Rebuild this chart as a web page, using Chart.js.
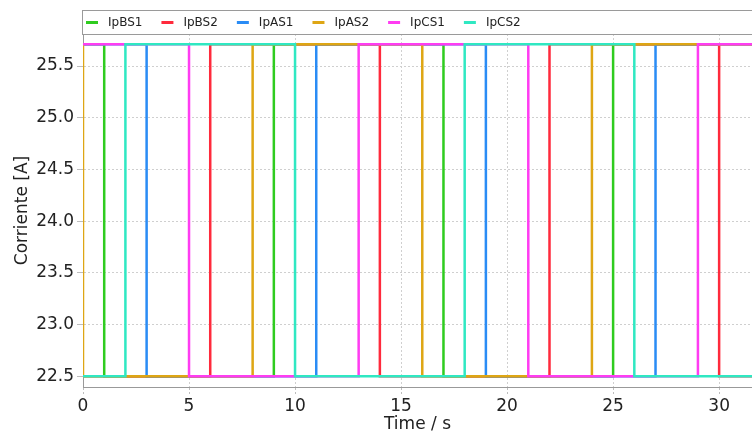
<!DOCTYPE html>
<html>
<head>
<meta charset="utf-8">
<script src="https://cdn.jsdelivr.net/npm/chart.js@4.4.0/dist/chart.umd.min.js"></script>
<style>
  html, body { margin: 0; padding: 0; background: #fff; }
  canvas { display: block; }
</style>
</head>
<body>
<canvas id="current-chart" width="752" height="437"></canvas>
<script>
const seriesNames = ['IpBS1', 'IpBS2', 'IpAS1', 'IpAS2', 'IpCS1', 'IpCS2'];
const seriesColors = ['#2fcc1f', '#ff2a3c', '#2a8cf5', '#dea614', '#ff3cf2', '#2fe8c2'];

// switching instants (s) and the current level from that instant on (A)
const timeBS1 = [0, 1, 9, 17, 25, 32];
const currBS1 = [25.71, 22.5, 25.71, 22.5, 25.71, 25.71];
const timeBS2 = [0, 6, 14, 22, 30, 32];
const currBS2 = [22.5, 25.71, 22.5, 25.71, 22.5, 22.5];
const timeAS1 = [0, 3, 11, 19, 27, 32];
const currAS1 = [25.71, 22.5, 25.71, 22.5, 25.71, 25.71];
const timeAS2 = [0, 0, 8, 16, 24, 32];
const currAS2 = [25.71, 22.5, 25.71, 22.5, 25.71, 25.71];
const timeCS1 = [0, 5, 13, 21, 29, 32];
const currCS1 = [25.71, 22.5, 25.71, 22.5, 25.71, 25.71];
const timeCS2 = [0, 2, 10, 18, 26, 32];
const currCS2 = [22.5, 25.71, 22.5, 25.71, 22.5, 22.5];

const xTicksStep = 5;
const yTicksStep = 0.5;

const times = [timeBS1, timeBS2, timeAS1, timeAS2, timeCS1, timeCS2];
const currents = [currBS1, currBS2, currAS1, currAS2, currCS1, currCS2];

const FONT = '"DejaVu Sans", Verdana, sans-serif';

// legend drawn as a framed strip above the plot
const legendBox = {
  id: 'legendBox',
  afterDraw(chart) {
    const ctx = chart.ctx;
    const top = 10, bottom = 34, left = 82;
    ctx.save();
    ctx.strokeStyle = '#9a9a9a';
    ctx.lineWidth = 1;
    ctx.strokeRect(left + 0.5, top + 0.5, chart.width, bottom - top);
    ctx.font = '12px ' + FONT;
    ctx.textBaseline = 'middle';
    const y = (top + bottom) / 2 + 0.5;
    let x = left + 4;
    chart.data.datasets.forEach(ds => {
      ctx.strokeStyle = ds.borderColor;
      ctx.lineWidth = 3;
      ctx.beginPath();
      ctx.moveTo(x, y);
      ctx.lineTo(x + 12, y);
      ctx.stroke();
      ctx.fillStyle = '#222';
      ctx.fillText(ds.label, x + 22, y);
      x += 22 + ctx.measureText(ds.label).width + 19;
    });
    ctx.restore();
  }
};

const datasets = seriesNames.map((name, i) => ({
  label: name,
  data: times[i].map((t, j) => ({ x: t, y: currents[i][j] })),
  borderColor: seriesColors[i],
  backgroundColor: seriesColors[i],
  borderWidth: 2.5,
  pointRadius: 0,
  stepped: true,
  fill: false,
  order: seriesNames.length - i // last series painted on top
}));

const ctx = document.getElementById('current-chart');
new Chart(ctx, {
  type: 'line',
  data: { datasets },
  options: {
    responsive: false,
    animation: false,
    layout: { padding: { top: 34, left: 0, right: 0, bottom: 0 } },
    plugins: {
      legend: { display: false },
      tooltip: { enabled: false }
    },
    scales: {
      x: {
        type: 'linear',
        min: 0,
        max: 31.55,
        afterFit: s => { s.height = 50; },
        ticks: {
          stepSize: xTicksStep,
          includeBounds: false,
          color: '#222',
          padding: 2,
          maxRotation: 0,
          font: { family: FONT, size: 17 }
        },
        grid: {
          color: '#cfcfcf',
          tickColor: '#bdbdbd',
          tickLength: 7,
          tickBorderDash: [2, 2]
        },
        border: { display: true, color: '#999', width: 1, dash: [2, 2] },
        title: {
          display: true,
          text: 'Time / s',
          color: '#222',
          font: { family: FONT, size: 17 },
          padding: { top: 0, bottom: 2 }
        }
      },
      y: {
        min: 22.397,
        max: 25.81,
        afterFit: s => { s.width = 83; },
        ticks: {
          stepSize: yTicksStep,
          includeBounds: false,
          color: '#222',
          padding: 3,
          font: { family: FONT, size: 17 },
          callback: v => v.toFixed(1)
        },
        grid: {
          color: '#cfcfcf',
          tickColor: '#bdbdbd',
          tickLength: 6
        },
        border: { display: true, color: '#999', width: 1, dash: [2, 2] },
        title: {
          display: true,
          text: 'Corriente [A]',
          color: '#222',
          font: { family: FONT, size: 17 },
          padding: { top: 12, bottom: 0 }
        }
      }
    }
  },
  plugins: [legendBox]
});
</script>
</body>
</html>
